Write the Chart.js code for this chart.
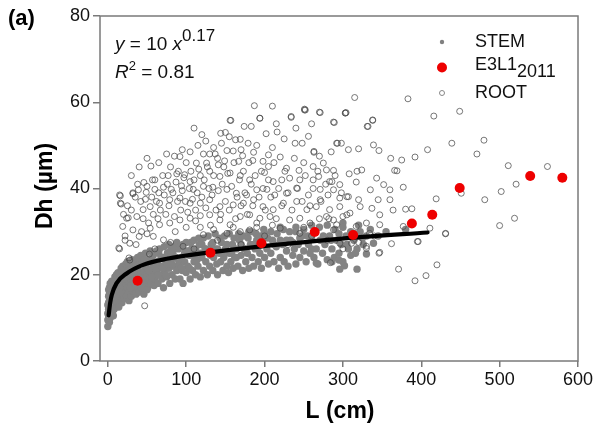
<!DOCTYPE html>
<html>
<head>
<meta charset="utf-8">
<script src="https://cdn.jsdelivr.net/npm/chart.js@4/dist/chart.umd.min.js"></script>
<style>
  html, body { margin: 0; padding: 0; background: #fff; }
  #wrap { width: 597px; height: 431px; }
</style>
</head>
<body>
<div id="wrap"><canvas id="chart" width="597" height="431"></canvas></div>
<script>
// Dh vs L scatter, panel (a)

const xTicks = [0, 100, 200, 300, 400, 500, 600];
const yTicks = [0, 20, 40, 60, 80];

// E3L1 2011 (red)
const e3l1 = [
  [38, 18.6], [131, 25.1], [196, 27.3], [264, 29.9], [313, 29.2],
  [388, 31.9], [414, 33.9], [449, 40.1], [539, 42.9], [580, 42.5]
];

// fitted curve y = 10 x^0.17
const fitLine = [
  [1, 10.6], [3, 13.5], [5, 15.3], [11, 18.0], [24, 20.3], [45, 22.3],
  [75, 23.7], [130, 25.2], [196, 26.6], [264, 27.8], [313, 28.6], [408, 29.8]
];

// STEM (grey filled)
const stem = [
  [0, 8], [0, 9.5], [1, 10.5], [1, 12], [1, 13.5], [2, 9], [2, 11], [2, 14], [2, 15.5], [3, 10],
  [3, 12.5], [3, 16], [4, 11.5], [4, 13], [4, 15], [5, 12], [5, 14], [5, 16.5], [6, 11.5], [6, 13.5],
  [6, 17], [7, 12.5], [7, 15], [8, 14], [8, 16], [8, 18], [9, 13], [9, 17], [10, 12.5], [10, 15], [10, 19],
  [11, 14], [12, 16], [12, 18.5], [13, 13], [14, 15], [14, 17.5], [15, 19.5], [16, 14], [16, 16.5], [17, 18],
  [18, 13.5], [18, 20], [19, 15.5], [20, 17], [20, 19], [21, 14.5], [22, 16], [22, 21], [23, 18], [24, 15],
  [24, 20], [25, 17], [26, 19], [26, 22], [27, 14], [28, 16], [28, 18.5], [29, 20.5], [30, 15], [30, 17.5], [30, 22],
  [32, 19], [33, 16], [34, 21], [35, 17.5], [35, 23], [36, 15.5], [37, 19.5], [38, 17], [39, 21], [40, 16],
  [40, 22.5], [41, 18.5], [42, 20], [43, 17], [44, 23], [45, 19], [46, 15.5], [47, 21], [48, 18], [49, 22],
  [50, 20], [51, 17], [52, 23.5], [53, 19], [54, 21], [55, 18], [56, 24], [57, 20], [58, 22], [59, 17.5], [60, 19],
  [62, 21], [63, 23], [64, 18], [65, 25], [66, 20], [68, 22], [69, 19], [70, 24], [71, 17], [72, 21],
  [74, 23], [75, 19.5], [76, 25], [78, 21.5], [79, 18], [80, 23], [82, 20], [83, 25], [84, 22], [86, 19],
  [87, 24], [88, 21], [90, 26], [91, 22.5], [92, 19], [94, 24], [95, 21], [96, 18], [98, 23], [99, 25.5], [100, 20.5],
  [102, 22], [104, 24.5], [105, 19], [107, 26], [108, 21], [110, 23], [112, 20], [113, 25], [115, 22], [117, 27],
  [118, 19.5], [120, 24], [122, 21], [124, 26], [125, 23], [127, 20], [129, 25], [130, 22], [132, 27], [134, 21],
  [135, 24], [137, 26], [139, 22.5], [140, 20], [142, 25], [144, 23], [145, 27.5], [147, 21], [148, 24], [150, 26],
  [152, 22], [154, 20.5], [155, 25], [157, 23], [159, 27], [160, 21.5], [162, 24], [164, 26], [166, 22], [168, 28],
  [170, 24.5], [172, 21], [174, 26], [176, 23], [178, 25], [180, 21.5], [182, 27], [184, 24], [186, 22], [188, 26],
  [190, 28], [192, 23], [194, 25], [196, 21.5], [198, 27], [200, 24],
  [203, 26], [205, 22.5], [208, 25], [210, 28], [212, 23], [215, 26.5], [218, 21.5], [220, 24], [223, 27], [225, 23],
  [228, 25.5], [230, 22], [233, 28], [236, 24.5], [238, 26], [240, 22.5], [243, 27], [245, 24], [248, 29], [250, 25.5],
  [253, 23], [256, 27], [258, 25], [260, 28.5],
  [263, 24], [266, 26], [268, 22.5], [271, 28], [274, 25], [277, 27], [280, 23.5], [283, 29], [286, 26], [289, 24],
  [292, 28], [295, 25], [298, 27], [300, 23], [304, 29], [307, 26], [310, 24.5], [314, 28], [318, 26], [322, 30],
  [326, 27], [330, 29], [286, 23], [295, 23.4], [302, 22.1], [318, 21.3], [330, 24.8], [316, 25], [339, 27.3],
  [266, 22.7], [296, 21.3], [180, 30], [220, 31], [260, 31.5], [300, 32], [240, 30], [200, 29.5],
  [0, 11], [0, 13], [1, 15], [1, 16.5], [2, 17], [3, 14], [3, 18], [4, 17], [5, 18.5], [6, 15.5],
  [7, 18], [7, 10.5], [8, 12], [9, 19.5], [10, 17], [11, 20], [12, 13.5], [13, 20.5], [14, 12.5], [15, 16],
  [17, 21.5], [19, 22], [21, 19], [23, 22.5], [25, 23], [27, 21], [29, 17], [31, 23.5], [33, 20], [34, 18],
  [36, 22], [38, 24], [40, 19.5], [42, 24.5], [44, 18], [46, 23.5], [48, 25], [50, 16.5], [52, 21], [54, 25.5],
  [56, 19.5], [58, 24.5], [60, 22],
  [62, 25.5], [64, 20], [66, 26], [68, 24], [70, 21.5], [72, 26.5], [74, 20], [76, 22.5], [78, 27], [80, 25.5],
  [82, 22.5], [84, 26.5], [86, 24], [88, 27.5], [90, 23.5], [92, 26.5], [94, 21.5], [96, 27], [98, 25], [100, 27.5],
  [102, 25.5], [104, 21.5], [106, 27.5], [108, 24.5], [110, 28], [112, 26], [114, 23.5], [116, 28.5], [118, 25], [120, 27],
  [122, 28.5], [125, 26], [128, 29], [131, 24.5], [134, 27.5], [137, 29.5], [140, 26], [143, 28.5], [146, 25], [149, 29],
  [152, 27], [155, 29.5], [158, 25], [161, 28.5], [164, 24], [167, 29.5], [170, 27], [173, 29], [176, 26], [179, 28.5],
  [183, 30], [186, 27], [189, 29.5], [192, 26.5], [195, 29], [199, 30.5],
  [204, 28.5], [208, 30], [212, 27], [216, 29.5], [220, 28], [224, 30.5], [228, 28], [232, 30], [236, 27.5], [240, 31],
  [245, 28.5], [250, 30.5], [255, 29], [260, 26], [265, 30], [270, 31], [275, 29], [280, 31.5], [285, 28], [290, 30.5],
  [295, 29.5], [300, 31], [305, 27], [310, 30], [315, 29.5], [320, 31.5], [325, 28.5], [335, 30.5], [345, 29], [355, 30],
  [380, 30.5]
];

// ROOT (open circles)
const root = [
  [187, 59.2], [210, 59.1], [252, 58.2], [271, 57.6], [304, 57.6], [234, 56.7], [194, 56.3], [156, 55.8],
  [289, 55.3], [174, 54.4], [183, 54.4], [144, 52.8], [150, 53], [202, 52.7], [216, 53.1], [169, 51.4],
  [163, 51.3], [179, 50.5], [92, 47.4], [122, 48], [130, 48], [137, 48], [152, 48.8], [160, 48.7],
  [172, 47.6], [186, 48.4], [205, 47.8], [220, 47.3], [239, 50.5], [248, 50.5], [256, 52.1], [263, 48.6],
  [293, 50.5], [298, 50.5], [307, 49], [55, 45.2], [113, 45.9], [126, 45.9], [141, 45.5], [149, 46.4],
  [167, 46.3], [185, 46.5], [198, 46.3], [205, 45.1], [228, 44.7], [244, 44.2], [262, 45.1], [275, 45.9],
  [279, 44.3], [288, 44.2], [46, 41.4], [57, 42], [77, 43], [88, 43.4], [98, 43.2], [105, 41.6],
  [118, 43], [130, 44], [143, 42.8], [156, 43.6], [169, 43], [181, 42], [200, 43.7], [211, 41.6],
  [222, 42], [232, 42.4], [245, 42], [262, 42], [283, 41.6], [296, 40.9], [16, 38.3], [17, 36.4],
  [32, 38.8], [39, 39.7], [49, 39.1], [60, 39.8], [71, 40.3], [81, 39.8], [94, 40.6], [109, 39.8],
  [122, 40.5], [134, 40.3], [152, 39.8], [164, 38.9], [177, 38.5], [190, 39.7], [203, 39.8], [213, 38.5],
  [228, 38.9], [241, 40.1], [256, 38.5], [271, 39.8], [288, 39.7], [305, 38.1], [24, 33.1], [37, 33.5],
  [45, 35.1], [54, 35.8], [66, 36.6], [79, 37.4], [92, 37.8], [105, 36.6], [118, 36.6], [130, 37.4],
  [143, 35.8], [160, 36.2], [173, 36.6], [186, 37.4], [198, 35.8], [211, 35.1], [224, 36.6], [241, 37],
  [254, 35.1], [266, 35.8], [283, 35.1], [296, 35.8], [22, 29], [32, 30.4], [43, 30], [54, 30.8],
  [66, 31.6], [79, 32], [92, 32.7], [105, 33.1], [118, 33.7], [130, 33.9], [143, 32.7], [156, 31.6],
  [169, 33.5], [181, 33.9], [194, 33.1], [207, 33.5], [220, 30.8], [232, 32.7], [245, 33.1], [258, 32],
  [279, 33.5], [292, 31.6], [305, 33.9], [15, 26], [28, 27.3], [40, 28.9], [58, 28.9], [71, 28.1],
  [96, 26.6], [122, 29.3], [152, 29.6], [169, 30], [181, 30.4], [245, 29.6], [288, 30.4],
  [15, 38.5], [16, 36.6], [26, 33.2], [19, 31.2], [14, 26.2], [27, 23.9], [32, 39], [22, 28],
  [47, 12.8], [28, 23.4], [53, 24.8],
  [251, 58.2], [303, 57.5], [331, 54.4], [338, 55.8], [416, 56.8], [449, 57.9], [439, 50.5], [480, 51.2],
  [471, 48], [292, 50.5], [263, 48.4], [320, 49.2], [339, 50.1], [346, 48.8], [408, 49], [361, 47],
  [375, 46.6], [392, 47.3], [511, 45.3], [561, 45.1], [521, 41], [502, 39.3], [481, 37.4], [419, 37.6],
  [451, 38.9], [519, 33.1], [500, 31.4], [431, 29.6], [395, 27.7], [411, 30.8], [377, 31.2], [388, 35.3],
  [380, 35.2], [366, 44.2], [369, 44.1], [343, 42.4], [352, 40.9], [360, 39.7], [377, 40.3], [335, 39.7],
  [345, 37.4], [360, 37.4], [364, 35], [347, 33.9], [337, 35.4], [330, 32], [347, 31.6], [330, 26.6],
  [347, 25.2], [362, 27.2], [318, 44], [324, 44.3], [308, 43.4], [317, 41.5], [286, 41.6], [269, 42.8],
  [281, 38.5], [271, 37.4], [296, 37.8], [307, 38.1], [320, 37.4], [322, 35.8], [309, 34.3], [300, 33.5],
  [288, 32.7], [334, 29.6], [317, 31.2], [311, 27.3], [296, 27.3],
  [371, 21.3], [392, 18.6], [406, 19.8], [420, 22.3], [431, 29.5], [396, 27.7], [346, 25], [330, 26.1], [284, 22.8],
  [157, 55.8], [194, 56.3], [315, 61.1], [383, 60.8], [234, 56.5], [251, 58.4], [270, 57.7], [288, 55.4],
  [303, 57.5], [338, 55.9], [332, 54.4],
  [20, 34], [25, 36], [30, 35], [35, 38], [38, 41], [42, 37], [45, 33], [48, 37.5], [50, 40.5], [52, 32],
  [56, 38], [58, 34], [60, 42], [62, 37], [65, 39], [67, 35], [70, 43], [72, 38.5], [74, 34], [76, 41],
  [78, 36], [80, 45], [83, 39], [85, 33.5], [87, 41.5], [89, 37], [90, 44], [93, 35], [95, 39.5], [97, 42.5],
  [99, 37], [100, 46], [102, 34.5], [104, 40], [106, 44], [108, 37.5], [110, 42], [112, 35], [114, 39], [116, 44.5],
  [118, 31], [120, 38], [123, 42], [125, 35.5], [127, 45], [129, 40], [131, 31.5], [133, 38.5], [135, 43], [138, 35],
  [140, 47], [141, 39.5], [144, 34], [146, 41], [148, 45], [150, 37], [153, 43.5], [155, 35], [158, 40.5], [161, 46],
  [163, 33], [165, 38], [168, 42], [170, 36], [173, 44], [175, 39], [178, 34], [180, 46], [183, 41], [185, 36],
  [188, 43], [190, 32], [193, 38], [196, 44], [198, 40], [201, 35], [205, 42], [208, 38], [212, 46], [215, 33],
  [218, 40], [222, 36], [226, 44], [230, 39], [235, 35], [238, 47], [242, 40], [248, 37], [252, 43], [258, 36],
  [262, 40], [268, 44], [272, 37], [278, 41], [282, 33], [290, 43], [298, 39],
  [60, 26], [80, 27.5], [110, 26], [140, 28], [170, 27], [200, 29], [230, 27], [260, 29], [280, 28], [300, 26],
  [320, 27.5], [340, 29],
  [30, 43], [40, 45], [50, 47], [65, 46], [75, 48], [85, 47.5], [95, 49], [105, 48.5], [115, 50], [125, 51],
  [135, 49.5], [145, 50.5], [155, 52], [170, 49], [190, 50], [210, 49.5], [225, 51.5], [110, 54], [120, 52.5],
  [250, 46], [270, 47.5], [285, 48.5], [215, 55], [240, 54], [260, 55], [36, 27], [50, 29.5], [64, 33],
  [86, 30], [100, 31], [112, 32.5], [135, 30.5], [160, 31], [190, 31], [210, 31.5], [250, 31], [270, 33]
];

const axisGrey = '#7a7a7a';
const FONT = '"Liberation Sans", Arial, sans-serif';

// text, frame and legend drawn on top
const decor = {
  id: 'decor',
  afterDraw(chart) {
    const { ctx, chartArea: a } = chart;
    ctx.save();
    ctx.strokeStyle = axisGrey;
    ctx.lineWidth = 1.5;
    ctx.strokeRect(a.left, a.top, a.right - a.left, a.bottom - a.top);

    ctx.fillStyle = '#000';
    ctx.textBaseline = 'middle';

    // panel label
    ctx.font = 'bold 22px ' + FONT;
    ctx.textAlign = 'left';
    ctx.fillText('(a)', 8, 19);

    // axis titles
    ctx.textAlign = 'center';
    ctx.font = 'bold 23px ' + FONT;
    ctx.fillText('L (cm)', 340, 412);
    ctx.save();
    ctx.translate(46, 186);
    ctx.rotate(-Math.PI / 2);
    ctx.fillText('Dh (\u00b5m)', 0, 0);
    ctx.restore();

    // equation
    ctx.textAlign = 'left';
    ctx.fillStyle = '#111';
    let x = 115;
    const part = (t, font, dy) => {
      ctx.font = font;
      ctx.fillText(t, x, dy);
      x += ctx.measureText(t).width;
    };
    part('y', 'italic 19px ' + FONT, 45);
    part(' = 10 ', '19px ' + FONT, 45);
    part('x', 'italic 19px ' + FONT, 45);
    part('0.17', '17px ' + FONT, 36);
    x = 115;
    part('R', 'italic 19px ' + FONT, 73);
    part('2', '13px ' + FONT, 66);
    part(' = 0.81', '19px ' + FONT, 73);

    // legend
    const lx = 442;
    ctx.fillStyle = '#808080';
    ctx.beginPath(); ctx.arc(lx, 42, 2.2, 0, Math.PI * 2); ctx.fill();
    ctx.fillStyle = '#ee0000';
    ctx.beginPath(); ctx.arc(lx, 67.5, 5, 0, Math.PI * 2); ctx.fill();
    ctx.strokeStyle = '#888';
    ctx.lineWidth = 1;
    ctx.beginPath(); ctx.arc(lx, 93, 2.5, 0, Math.PI * 2); ctx.stroke();

    ctx.fillStyle = '#111';
    x = 475;
    part('STEM', '18px ' + FONT, 42);
    x = 475;
    part('E3L1', '18px ' + FONT, 65);
    part('2011', '18px ' + FONT, 72);
    x = 475;
    part('ROOT', '18px ' + FONT, 93);
    ctx.restore();
  }
};

new Chart(document.getElementById('chart'), {
  type: 'scatter',
  data: {
    datasets: [
      {
        label: 'STEM',
        data: stem,
        pointRadius: 3.7,
        pointBackgroundColor: '#838383',
        pointBorderWidth: 0,
        order: 4
      },
      {
        label: 'ROOT',
        data: root,
        pointRadius: 3,
        pointBackgroundColor: 'rgba(0,0,0,0)',
        pointBorderColor: 'rgba(75,75,75,0.75)',
        pointBorderWidth: 1,
        order: 3
      },
      {
        label: 'fit',
        type: 'line',
        data: fitLine,
        showLine: true,
        borderColor: '#000',
        borderWidth: 4.2,
        pointRadius: 0,
        cubicInterpolationMode: 'monotone',
        borderCapStyle: 'round',
        order: 2
      },
      {
        label: 'E3L1 2011',
        data: e3l1,
        pointRadius: 5,
        pointBackgroundColor: '#ee0000',
        pointBorderWidth: 0,
        order: 1
      }
    ]
  },
  options: {
    responsive: false,
    animation: false,
    devicePixelRatio: 1,
    layout: { padding: { left: 0, top: 16, right: 19, bottom: 0 } },
    plugins: { legend: { display: false }, tooltip: { enabled: false } },
    scales: {
      x: {
        type: 'linear',
        min: -10,
        max: 600,
        afterBuildTicks: s => { s.ticks = xTicks.map(v => ({ value: v })); },
        afterFit: s => { s.height = 70; },
        border: { display: false },
        grid: { drawOnChartArea: false, drawTicks: true, tickLength: 6, color: axisGrey, lineWidth: 1.5 },
        ticks: { color: '#111', font: { size: 18, family: FONT }, padding: 2, maxRotation: 0 }
      },
      y: {
        type: 'linear',
        min: 0,
        max: 80,
        afterBuildTicks: s => { s.ticks = yTicks.map(v => ({ value: v })); },
        afterFit: s => { s.width = 100; },
        border: { display: false },
        grid: { drawOnChartArea: false, drawTicks: true, tickLength: 7, color: axisGrey, lineWidth: 1.5 },
        ticks: { color: '#111', font: { size: 18, family: FONT }, padding: 3 }
      }
    }
  },
  plugins: [decor]
});
</script>
</body>
</html>
